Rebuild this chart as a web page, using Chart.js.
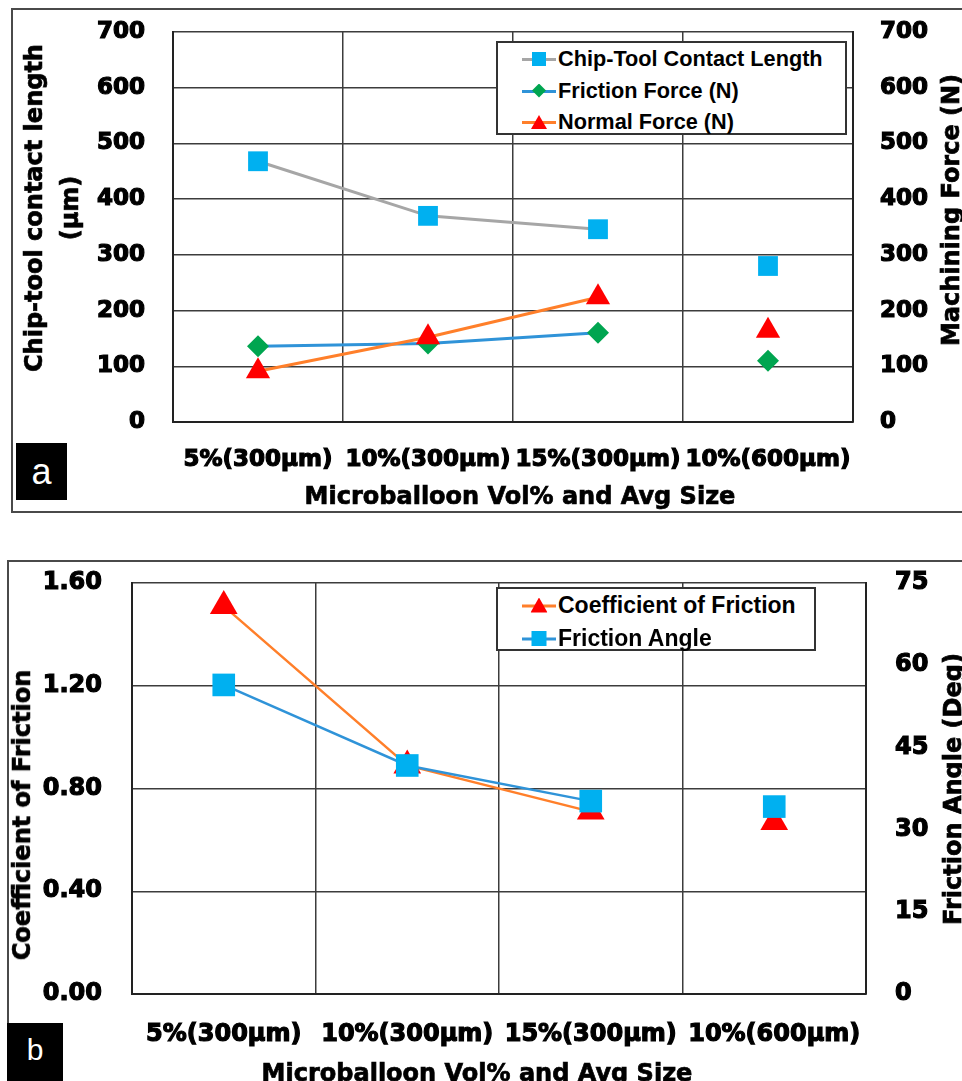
<!DOCTYPE html>
<html>
<head>
<meta charset="utf-8">
<script src="https://cdn.jsdelivr.net/npm/chart.js@4.4.0/dist/chart.umd.min.js"></script>
<style>
  html, body { margin:0; padding:0; background:#fff; overflow:hidden; }
  body { width:962px; height:1081px; position:relative; font-family:"DejaVu Sans", sans-serif; }
  .frame { position:absolute; border:2px solid #4a4a4a; box-sizing:border-box; }
  .box { position:absolute; }
  .tag { position:absolute; background:#000; color:#fff; font-family:"Liberation Sans", Arial, sans-serif;
         display:flex; align-items:center; justify-content:center; }
  .ttl { position:absolute; font-weight:bold; font-size:24px; color:#000; white-space:nowrap; line-height:36px; text-align:center;
         -webkit-text-stroke:0.7px #000; }
  .rot { transform:translate(-50%,-50%) rotate(-90deg); }
  .hz { transform:translate(-50%,-50%); }
  .legend { position:absolute; background:#fff; border:2px solid #333; box-sizing:border-box;
            font-family:"Liberation Sans", Arial, sans-serif; font-weight:bold; color:#000; }
  .legend .row { position:absolute; left:24px; display:flex; align-items:center; white-space:nowrap; }
  .legend .sym { position:relative; width:34px; height:20px; margin-right:2px; }
  .legend .sym i { position:absolute; left:0; right:0; top:9px; height:3px; }
  .legend .sym b { position:absolute; left:50%; top:50%; transform:translate(-50%,-50%); }
</style>
</head>
<body>
<div class="frame" style="left:11px;top:8px;width:980px;height:505px"></div>
<div class="frame" style="left:7px;top:560px;width:980px;height:560px"></div>

<div class="box" style="left:0;top:0;width:962px;height:520px"><canvas id="chartA"></canvas></div>
<div class="box" style="left:0;top:555px;width:962px;height:526px"><canvas id="chartB"></canvas></div>

<div class="ttl rot" style="left:52px;top:208px">Chip-tool contact length<br>(µm)</div>
<div class="ttl rot" style="left:951px;top:210px">Machining Force (N)</div>
<div class="ttl hz" style="left:520px;top:496px">Microballoon Vol% and Avg Size</div>

<div class="ttl rot" style="left:22px;top:815px">Coefficient of Friction</div>
<div class="ttl rot" style="left:953px;top:789px">Friction Angle (Deg)</div>
<div class="ttl hz" style="left:477px;top:1073px">Microballoon Vol% and Avg Size</div>

<div class="tag" style="left:16px;top:443px;width:51px;height:57px;font-size:36px">a</div>
<div class="tag" style="left:7px;top:1023px;width:56px;height:70px;font-size:30px;align-items:flex-start;padding-top:10px;box-sizing:border-box">b</div>

<div id="legendA" class="legend" style="left:496px;top:41px;width:351px;height:94px;font-size:21.7px"></div>
<div id="legendB" class="legend" style="left:496px;top:587px;width:320px;height:64px;font-size:23px"></div>

<script>
// ---------- data ----------
const CATEGORIES = ['5%(300µm)', '10%(300µm)', '15%(300µm)', '10%(600µm)'];

const CONTACT_LENGTH = [468, 370, 346, 280];   // µm
const FRICTION_FORCE = [136, 141, 160, 110];   // N
const NORMAL_FORCE   = [91, 152, 224, 164];    // N

const COF            = [1.51, 0.89, 0.71, 0.67];
const FRICTION_ANGLE = [56.4, 41.7, 35.2, 34.2]; // deg

const FORCE_TICKS = [0, 100, 200, 300, 400, 500, 600, 700];
const COF_TICKS   = [0, 0.4, 0.8, 1.2, 1.6];
const ANGLE_TICKS = [0, 15, 30, 45, 60, 75];

// ---------- styling helpers ----------
const GRID = '#3c3c3c';
const BLUE_MK = '#00b0f0', GREEN_MK = '#00a550', RED_MK = '#ff0000';
const GRAY_LN = '#a6a6a6', BLUE_LN = '#2f93d8', ORANGE_LN = '#ff7f2a';
const tickFont = size => ({ family: 'DejaVu Sans', weight: 'bold', size });
const heavy = { textStrokeColor: '#000', textStrokeWidth: 1.2 };

// last point stands alone in the reference: no segment into it
const noLastSegment = { borderColor: ctx => ctx.p1DataIndex === 3 ? 'rgba(0,0,0,0)' : undefined };

function series(label, data, line, mark, style, radius, order, axis, width) {
  return {
    label, data, yAxisID: axis, order,
    borderColor: line, borderWidth: width, tension: 0,
    pointStyle: style, pointRadius: radius, pointHoverRadius: radius,
    pointBackgroundColor: mark, pointBorderColor: mark, pointBorderWidth: 0,
    segment: noLastSegment
  };
}

function yAxis(pos, min, max, list, fmt, size, pad, width, onArea) {
  return {
    position: pos, min, max,
    afterBuildTicks: s => { s.ticks = list.map(v => ({ value: v })); },
    ticks: Object.assign({ font: tickFont(size), color: '#000', padding: pad, callback: fmt }, heavy),
    grid: { color: GRID, lineWidth: 1.5, drawTicks: false, drawOnChartArea: onArea },
    border: { color: '#222', width: 2 },
    // fixed width, and don't let the tick padding push the chart area down
    afterFit: s => { s.width = width; s.paddingTop = 0; s.paddingBottom = 0; }
  };
}

function xAxis(size, pad, height) {
  return {
    type: 'category', labels: CATEGORIES, offset: true,
    ticks: Object.assign({ font: tickFont(size), color: '#000', padding: pad, autoSkip: false, maxRotation: 0, minRotation: 0 }, heavy),
    grid: { offset: true, color: GRID, lineWidth: 1.5, drawTicks: false },
    border: { color: '#222', width: 2 },
    afterFit: s => { s.height = height; }
  };
}

const baseOpts = top => ({
  responsive: true, maintainAspectRatio: false, animation: false,
  layout: { padding: { top, left: 0, right: 0, bottom: 0 } },
  plugins: { legend: { display: false }, tooltip: { enabled: false } }
});

// ---------- chart a ----------
const dsA = [
  series('Chip-Tool Contact Length', CONTACT_LENGTH, GRAY_LN, BLUE_MK, 'rect', 14, 2, 'y', 3),
  series('Friction Force (N)', FRICTION_FORCE, BLUE_LN, GREEN_MK, 'rectRot', 11, 1, 'y1', 3),
  series('Normal Force (N)', NORMAL_FORCE, ORANGE_LN, RED_MK, 'triangle', 14, 0, 'y1', 3)
];
new Chart(document.getElementById('chartA'), {
  type: 'line',
  data: { labels: CATEGORIES, datasets: dsA },
  options: Object.assign(baseOpts(32), {
    scales: {
      x: xAxis(23, 24, 98),
      y: yAxis('left', 0, 700, FORCE_TICKS, v => v, 23, 28, 173, true),
      y1: yAxis('right', 0, 700, FORCE_TICKS, v => v, 23, 27, 109, false)
    }
  })
});

// ---------- chart b ----------
const dsB = [
  series('Coefficient of Friction', COF, ORANGE_LN, RED_MK, 'triangle', 16, 1, 'y', 2.5),
  series('Friction Angle', FRICTION_ANGLE, BLUE_LN, BLUE_MK, 'rect', 16, 0, 'y1', 2.5)
];
new Chart(document.getElementById('chartB'), {
  type: 'line',
  data: { labels: CATEGORIES, datasets: dsB },
  options: Object.assign(baseOpts(28), {
    scales: {
      x: xAxis(24, 26, 87),
      y: yAxis('left', 0, 1.6, COF_TICKS, v => Number(v).toFixed(2), 24, 30, 132, true),
      y1: yAxis('right', 0, 75, ANGLE_TICKS, v => v, 24, 29, 96, false)
    }
  })
});

// ---------- html legends (line + marker like the original) ----------
function markerHtml(ds, s) {
  const c = ds.pointBackgroundColor;
  if (ds.pointStyle === 'rect') return `<b style="width:${s}px;height:${s}px;background:${c}"></b>`;
  if (ds.pointStyle === 'rectRot') return `<b style="width:${s}px;height:${s}px;background:${c};clip-path:polygon(50% 0,100% 50%,50% 100%,0 50%)"></b>`;
  return `<b style="width:${s + 2}px;height:${s}px;background:${c};clip-path:polygon(50% 0,100% 100%,0 100%)"></b>`;
}
function buildLegend(id, datasets, firstY, step, mk) {
  const el = document.getElementById(id);
  el.innerHTML = datasets.map((ds, i) =>
    `<div class="row" style="top:${firstY + i * step}px;transform:translateY(-50%)">
       <span class="sym"><i style="background:${ds.borderColor}"></i>${markerHtml(ds, mk)}</span>${ds.label}
     </div>`).join('');
}
buildLegend('legendA', dsA, 16, 31.5, 14);
buildLegend('legendB', dsB, 16, 33, 15);
</script>
</body>
</html>
